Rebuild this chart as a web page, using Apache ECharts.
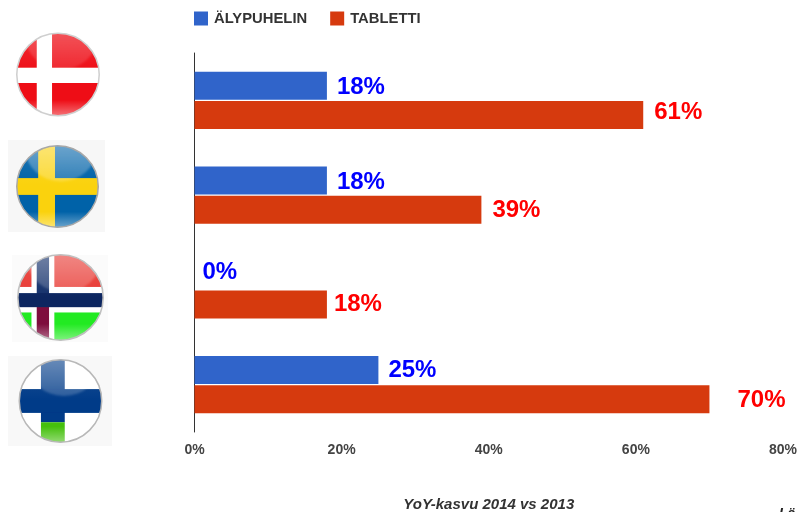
<!DOCTYPE html>
<html>
<head>
<meta charset="utf-8">
<style>html,body{margin:0;background:#fff}#chart{width:797px;height:512px}</style>
<script src="https://cdn.jsdelivr.net/npm/echarts@6/dist/echarts.min.js"></script>
</head>
<body>
<div id="chart"></div>
<script>
// Year-on-year growth per Nordic country, 2014 vs 2013
const countries = ['Tanska', 'Ruotsi', 'Norja', 'Suomi'];
const smartphone = [18, 18, 0, 25];
const tablet = [61, 39, 18, 70];
const xTicks = [0, 20, 40, 60, 80];
const seriesNames = ['ÄLYPUHELIN', 'TABLETTI'];
const axisTitle = 'YoY-kasvu 2014 vs 2013';

const FONT = '"Liberation Sans", Arial, sans-serif';

// Glossy round badge: colour layers clipped to a disc, with a soft sheen on top
function badge(layers, sheen, rim) {
  const svg = `<svg xmlns="http://www.w3.org/2000/svg" width="100" height="100" viewBox="0 0 100 100">
<defs>
<clipPath id="c"><circle cx="50" cy="50" r="48.5"/></clipPath>
<filter id="s" x="-10%" y="-10%" width="120%" height="120%"><feGaussianBlur stdDeviation="1.5"/></filter>
<filter id="f" x="-5%" y="-5%" width="110%" height="110%"><feGaussianBlur stdDeviation="0.6"/></filter>
<linearGradient id="g" x1="0" y1="0" x2="0" y2="1">
<stop offset="0" stop-color="#fff" stop-opacity="0.12"/><stop offset="0.5" stop-color="#fff" stop-opacity="0"/>
<stop offset="0.8" stop-color="#fff" stop-opacity="0"/><stop offset="1" stop-color="#fff" stop-opacity="0.45"/></linearGradient>
<linearGradient id="h" x1="0" y1="0" x2="0" y2="1">
<stop offset="0" stop-color="#fff" stop-opacity="${sheen * 1.3}"/><stop offset="1" stop-color="#fff" stop-opacity="${sheen * 0.5}"/></linearGradient>
</defs>
<g clip-path="url(#c)"><g filter="url(#f)">${layers}</g>
<ellipse cx="54" cy="6" rx="42" ry="38" fill="url(#h)" filter="url(#s)"/>
<rect width="100" height="100" fill="url(#g)"/></g>
<circle cx="50" cy="50" r="48.5" fill="none" stroke="${rim}" stroke-width="1.8" filter="url(#f)"/>
</svg>`;
  return 'data:image/svg+xml;charset=utf-8,' + encodeURIComponent(svg);
}

const r = (x, y, w, h, c) => `<rect x="${x}" y="${y}" width="${w}" height="${h}" fill="${c}"/>`;

const badges = [
  { cx: 58, cy: 74.5, size: 85, img: badge(
      r(-5, -5, 110, 110, '#ee0d12') + r(25, -5, 18, 110, '#fff') + r(-5, 42, 110, 18, '#fff'), 0.2, '#cfcfcf') },
  { cx: 57.5, cy: 186.5, size: 84, back: [8, 140, 97, 92, '#f7f7f7'], img: badge(
      r(-5, -5, 110, 110, '#0062a8') + r(27, -5, 20, 110, '#fad210') + r(-5, 40, 110, 20, '#fad210'), 0.36, '#a8a8a8') },
  { cx: 60.5, cy: 297.5, size: 88, back: [12, 255, 96, 87, '#fbfbfb'], img: badge(
      r(-5, -5, 110, 55, '#e83a34') + r(-5, 50, 110, 55, '#22ea22') +
      r(17, -5, 26, 110, '#fff') + r(-5, 38, 110, 29, '#fff') +
      r(23, -5, 14, 55, '#14306c') + r(23, 50, 14, 55, '#7e0f3c') + r(-5, 45, 110, 16, '#0d2560'), 0.32, '#c0c0c0') },
  { cx: 60.5, cy: 401, size: 85, back: [8, 356, 104, 90, '#f8f8f8'], img: badge(
      r(-5, -5, 110, 110, '#fff') + r(27, -5, 28, 80, '#003a88') + r(-5, 36, 110, 28, '#003a88') +
      r(27, 75, 28, 30, '#45c010'), 0.34, '#b8b8b8') }
];

const flagGraphics = [];
badges.forEach(b => {
  if (b.back) {
    flagGraphics.push({ type: 'rect', silent: true,
      shape: { x: b.back[0], y: b.back[1], width: b.back[2], height: b.back[3] },
      style: { fill: b.back[4] } });
  }
  flagGraphics.push({ type: 'image', silent: true,
    style: { image: b.img, x: b.cx - b.size / 2, y: b.cy - b.size / 2, width: b.size, height: b.size } });
});

// Partly visible source line running off the bottom-right corner
flagGraphics.push({ type: 'text', silent: true,
  style: { x: 779, y: 507, text: 'Lä', fill: '#222', font: 'italic bold 14px ' + FONT } });

// Hand-placed value labels: [extra gap after the bar, vertical shift] per country
const smartphoneLabelShift = [[-1, 2], [-1, 2], [-3, -3], [-1, 0]];
const tabletLabelShift = [[0, -3], [0, 1], [-4, 0], [17, 1]];

const labelStyle = (color) => ({
  show: true, position: 'right', distance: 11, color,
  fontFamily: FONT, fontSize: 24, fontWeight: 'bold', formatter: '{c}%'
});

const withShift = (values, shifts) => values.map((v, i) => ({
  value: v,
  label: { distance: 11 + shifts[i][0], offset: [0, shifts[i][1]] }
}));

const chart = echarts.init(document.getElementById('chart'), null, { renderer: 'canvas' });
chart.setOption({
  animation: false,
  backgroundColor: '#fff',
  graphic: flagGraphics,
  grid: { left: 194.5, right: 14, top: 53, height: 379, outerBoundsMode: 'none' },
  legend: {
    left: 189, top: 6, itemWidth: 14, itemHeight: 14, itemGap: 23, icon: 'rect',
    textStyle: { fontFamily: FONT, fontSize: 14.8, fontWeight: 'bold', color: '#333', padding: [0, 0, 0, 1] },
    data: seriesNames
  },
  xAxis: {
    type: 'value', min: 0, max: 80, interval: xTicks[1] - xTicks[0],
    name: axisTitle, nameLocation: 'middle', nameGap: 65,
    nameTextStyle: { fontFamily: FONT, fontSize: 15, fontWeight: 'bold', fontStyle: 'italic', color: '#333' },
    axisLine: { show: false }, axisTick: { show: false }, splitLine: { show: false },
    axisLabel: { margin: 11, fontFamily: FONT, fontSize: 14, fontWeight: 'bold', color: '#444', formatter: '{value}%' }
  },
  yAxis: {
    type: 'category', inverse: true, data: countries,
    axisLine: { show: true, lineStyle: { color: '#333', width: 1 } },
    axisTick: { show: false }, axisLabel: { show: false }, splitLine: { show: false }
  },
  series: [
    {
      name: seriesNames[0], type: 'bar', barWidth: 28, barGap: '4%',
      itemStyle: { color: '#3064ca' },
      label: labelStyle('#0000ff'),
      data: withShift(smartphone, smartphoneLabelShift)
    },
    {
      name: seriesNames[1], type: 'bar', barWidth: 28,
      itemStyle: { color: '#d63a0e' },
      label: labelStyle('#ff0000'),
      data: withShift(tablet, tabletLabelShift)
    }
  ]
});
</script>
</body>
</html>
